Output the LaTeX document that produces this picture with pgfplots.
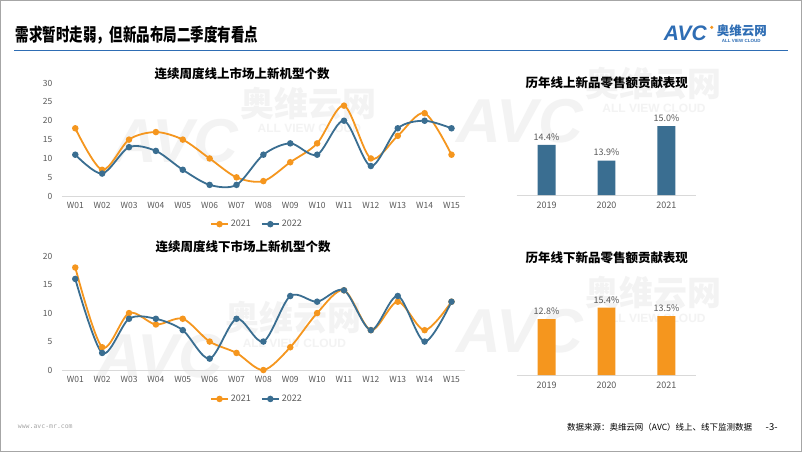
\documentclass[border=0pt]{standalone}
\usepackage{fontspec}
\setmainfont{Noto Sans CJK SC}
\setmonofont{DejaVu Sans Mono}
\newfontfamily\logofont{Liberation Sans}
\usepackage{pgfplots}
\pgfplotsset{compat=1.18}

\definecolor{cOr}{HTML}{F5961E}
\definecolor{cBl}{HTML}{3A6E91}
\definecolor{cHead}{HTML}{2E6DB4}
\definecolor{cTick}{HTML}{595959}
\definecolor{cAxis}{HTML}{D9D9D9}
\definecolor{cWm}{HTML}{F3F3F3}

\pgfplotsset{
  linechart/.style={
    scale only axis, width=403.5pt,
    xmin=-0.5, xmax=14.5, ymin=0,
    axis x line*=bottom, axis y line*=left,
    x axis line style={draw=cAxis,-}, y axis line style={draw=none},
    major tick length=0pt,
    xtick={0,...,14},
    xticklabels={W01,W02,W03,W04,W05,W06,W07,W08,W09,W10,W11,W12,W13,W14,W15},
    tick label style={font=\fontsize{8.5}{9}\selectfont, text=cTick},
    xticklabel style={yshift=-3pt},
    yticklabel style={xshift=-6pt},
    /pgf/number format/assume math mode=true,
    legend style={draw=none, fill=none, legend columns=2,
      font=\fontsize{9}{10}\selectfont, text=cTick,
      /tikz/every even column/.append style={column sep=8pt}},
    every axis plot/.append style={smooth, line width=1.8pt, mark=*, mark size=2.3pt},
  },
  barchart/.style={
    scale only axis, width=180pt,
    xmin=-0.5, xmax=2.5, ybar, bar width=18pt,
    axis y line=none, axis x line*=bottom,
    x axis line style={draw=cAxis,-},
    major tick length=0pt,
    xtick={0,1,2}, xticklabels={2019,2020,2021},
    tick label style={font=\fontsize{9}{10}\selectfont, text=cTick},
    xticklabel style={yshift=-3pt},
    /pgf/number format/assume math mode=true,
    nodes near coords={\pgfmathprintnumber[fixed,precision=1,fixed zerofill]{\pgfplotspointmeta}\%},
    every node near coord/.append style={font=\fontsize{9}{10}\selectfont, text=cTick, yshift=1pt},
  },
}

\newcommand{\wm}[2]{%
  \begin{scope}[shift={(#1,#2)}, rotate=22]
    \node[text=cWm, font=\logofont\bfseries\itshape\fontsize{62}{62}\selectfont] at (0,0) {AVC};
    \node[text=cWm, font=\bfseries\fontsize{34}{34}\selectfont, anchor=west] at (72,12) {奥维云网};
    \node[text=cWm, font=\logofont\bfseries\fontsize{12}{12}\selectfont, anchor=west] at (78,-18) {ALL VIEW CLOUD};
  \end{scope}}

\begin{document}
\begin{tikzpicture}[x=1pt,y=1pt]
\fill[white] (0,0) rectangle (802,451);
\begin{scope}
\clip (0,0) rectangle (802,451);
\wm{175}{310}
\wm{160}{95}
\wm{520}{330}
\wm{520}{120}
\end{scope}
\draw[gray!70, line width=0.8pt] (0,0) rectangle (802,451);

\coordinate (P1) at (61.5,255);
\coordinate (P2) at (61.5,81);
\coordinate (P3) at (516.7,256);
\coordinate (P4) at (516.7,76);

% header
\node[anchor=west, inner sep=0pt] at (15,416) {\scalebox{0.75}[1]{\fontsize{18}{18}\selectfont\bfseries 需求暂时走弱，但新品布局二季度有看点}};
\draw[cHead, line width=1.5pt] (14,401) -- (788,401);
\node[anchor=west, inner sep=0pt, text=cHead] at (664,418) {\logofont\bfseries\itshape\fontsize{21}{21}\selectfont AVC};
\fill[cOr] (712,424) circle (1.8);
\node[anchor=west, inner sep=0pt, text=cHead] at (717,421) {\fontsize{12.5}{13}\selectfont\bfseries 奥维云网};
\node[anchor=west, inner sep=0pt, text=cHead] at (722,410) {\logofont\bfseries\fontsize{4.5}{5}\selectfont ALL VIEW CLOUD};

% chart titles
\node[font=\bfseries\fontsize{12.5}{13}\selectfont] at (242,378) {连续周度线上市场上新机型个数};
\node[font=\bfseries\fontsize{12.5}{13}\selectfont] at (243,204) {连续周度线下市场上新机型个数};
\node[font=\bfseries\fontsize{12.5}{13}\selectfont] at (607,368) {历年线上新品零售额贡献表现};
\node[font=\bfseries\fontsize{12.5}{13}\selectfont] at (607,193) {历年线下新品零售额贡献表现};

% online weekly
\begin{axis}[linechart, at={(P1)}, anchor=south west, height=113.3pt,
  ymax=30, ytick={0,5,...,30},
  legend style={at={(0.484,-0.247)}, anchor=center}]
\addplot[cOr, mark options={fill=cOr}] coordinates {(0,18)(1,7)(2,15)(3,17)(4,15)(5,10)(6,5)(7,4)(8,9)(9,14)(10,24)(11,10)(12,16)(13,22)(14,11)};
\addlegendentry{2021}
\addplot[cBl, mark options={fill=cBl}] coordinates {(0,11)(1,6)(2,13)(3,12)(4,7)(5,3)(6,3)(7,11)(8,14)(9,11)(10,20)(11,8)(12,18)(13,20)(14,18)};
\addlegendentry{2022}
\end{axis}

% offline weekly
\begin{axis}[linechart, at={(P2)}, anchor=south west, height=114pt,
  ymax=20, ytick={0,5,...,20},
  legend style={at={(0.484,-0.254)}, anchor=center}]
\addplot[cOr, mark options={fill=cOr}] coordinates {(0,18)(1,4)(2,10)(3,8)(4,9)(5,5)(6,3)(7,0)(8,4)(9,10)(10,14)(11,7)(12,12)(13,7)(14,12)};
\addlegendentry{2021}
\addplot[cBl, mark options={fill=cBl}] coordinates {(0,16)(1,3)(2,9)(3,9)(4,7)(5,2)(6,9)(7,5)(8,13)(9,12)(10,14)(11,7)(12,13)(13,5)(14,12)};
\addlegendentry{2022}
\end{axis}

% online share bars
\begin{axis}[barchart, at={(P3)}, anchor=south west, height=85pt,
  ymin=12.8, ymax=15.5]
\addplot[fill=cBl, draw=none] coordinates {(0,14.4)(1,13.9)(2,15.0)};
\end{axis}

% offline share bars
\begin{axis}[barchart, at={(P4)}, anchor=south west, height=78.75pt,
  ymin=0, ymax=18]
\addplot[fill=cOr, draw=none] coordinates {(0,12.8)(1,15.4)(2,13.5)};
\end{axis}

% footer
\node[anchor=west, text=gray!70, font=\ttfamily\fontsize{6.5}{7}\selectfont] at (14,24) {www.avc-mr.com};
\node[anchor=east, font=\fontsize{8.5}{9}\selectfont] at (756,24) {数据来源：奥维云网（AVC）线上、线下监测数据};
\node[font=\fontsize{9.5}{10}\selectfont] at (772,24) {-3-};
\end{tikzpicture}
\end{document}
